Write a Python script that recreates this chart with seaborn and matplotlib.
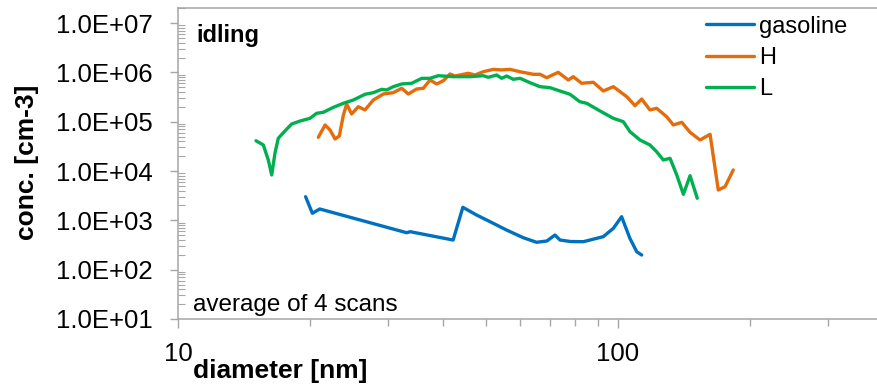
import numpy as np
import pandas as pd
import matplotlib
matplotlib.use("Agg")
import matplotlib.pyplot as plt
import matplotlib.ticker as mticker
import seaborn as sns

# ---------------- data ----------------
gasoline_d = [19.5, 20.2, 21.0, 33.1, 33.7, 42.2, 44.4, 47.7, 51.2, 55.8, 60.9,
              65.3, 68.9, 71.9, 73.8, 78.0, 83.4, 92.6, 97.6, 101.9, 106.4, 110.3, 113.2]
gasoline_c = [3015, 1390, 1698, 561, 589, 399, 1838, 1283, 938, 637, 445,
              359, 381, 504, 399, 372, 369, 467, 689, 1186, 433, 231, 198]

H_d = [20.84, 21.59, 22.16, 22.75, 23.26, 23.76, 24.17, 24.81, 25.69, 26.61,
       27.79, 29.29, 30.85, 32.24, 33.38, 34.87, 36.1, 37.39, 38.73, 40.09,
       41.52, 42.61, 43.74, 45.69, 47.32, 49.41, 52.07, 54.41, 56.82, 59.88,
       64.2, 66.49, 68.86, 73.14, 77.1, 79.1, 82.7, 87.9, 92.6, 97.6,
       104.7, 109.3, 113.2, 118.2, 122.4, 129.0, 133.6, 139.6, 145.8, 153.6,
       161.9, 169.0, 175.1, 182.8]
H_c = [48200, 85700, 67800, 44600, 51300, 136000, 228000, 143000, 201000, 173000,
       275000, 364000, 387000, 475000, 364000, 460000, 475000, 700000, 581000, 677000,
       927000, 843000, 884000, 957000, 884000, 1030000, 1150000, 1120000, 1150000, 1030000,
       913000, 913000, 779000, 1000000, 700000, 817000, 600000, 629000, 419000, 512000,
       321000, 211000, 288000, 173000, 187000, 126000, 85700, 97100, 61000, 42500,
       55500, 4120, 4810, 10500]

L_d = [15.04, 15.63, 16.04, 16.33, 16.61, 16.9, 17.35, 18.13, 18.94, 19.95,
       20.66, 21.39, 22.54, 23.76, 25.03, 26.61, 27.79, 29.04, 29.8, 30.85,
       32.24, 33.97, 35.8, 37.39, 39.05, 42.24, 46.09, 49.41, 50.72, 53.0,
       54.41, 55.85, 57.81, 59.88, 63.1, 66.49, 70.05, 73.8, 77.8, 81.9,
       84.9, 91.0, 97.6, 102.8, 106.5, 112.2, 118.2, 122.4, 126.8, 131.3,
       136.0, 140.8, 145.8, 151.4]
L_c = [41100, 33700, 16700, 8300, 22900, 46000, 59800, 89800, 103000, 117000,
       148000, 155000, 195000, 236000, 275000, 359000, 387000, 453000, 439000, 512000,
       581000, 600000, 757000, 757000, 855000, 817000, 817000, 855000, 794000, 884000,
       757000, 843000, 723000, 757000, 617000, 512000, 489000, 419000, 359000, 254000,
       236000, 165000, 117000, 100000, 62600, 42500, 33700, 24600, 16700, 18100,
       8300, 3370, 8040, 2800]

series_names = ["gasoline", "H", "L"]
series_colors = ["#0070C0", "#E46C0A", "#00B050"]
y_major = [1e1, 1e2, 1e3, 1e4, 1e5, 1e6, 1e7]
x_major = [10, 100]
x_major_labels = ["10", "100"]

df = pd.concat([
    pd.DataFrame({"diameter": gasoline_d, "conc": gasoline_c, "series": "gasoline"}),
    pd.DataFrame({"diameter": H_d, "conc": H_c, "series": "H"}),
    pd.DataFrame({"diameter": L_d, "conc": L_c, "series": "L"}),
], ignore_index=True)

# ---------------- style ----------------
sns.set_theme(style="white")
plt.rcParams["font.family"] = ["Liberation Sans", "DejaVu Sans"]

W, H = 877, 386
fig = plt.figure(figsize=(W / 100, H / 100), dpi=100)
ax = fig.add_axes([178 / W, (H - 319) / H, (W - 178) / W, 311 / H])

sns.lineplot(data=df, x="diameter", y="conc", hue="series",
             hue_order=series_names, palette=dict(zip(series_names, series_colors)),
             estimator=None, sort=False, linewidth=2.4, legend=False, ax=ax)
for ln in ax.lines:
    ln.set_solid_joinstyle("round")
    ln.set_solid_capstyle("round")

ax.set_xscale("log")
ax.set_yscale("log")
ax.set_xlim(10, 10 ** (1 + 699 / 440))
ax.set_ylim(10, 10 ** (1 + 311 / 49.33))

gray = "#A6A6A6"
for s in ["left", "bottom", "top"]:
    ax.spines[s].set_color(gray)
    ax.spines[s].set_linewidth(1.1)
ax.spines["right"].set_visible(False)

ax.yaxis.set_major_locator(mticker.FixedLocator(y_major))
ax.yaxis.set_major_formatter(mticker.FuncFormatter(lambda v, p: f"1.0E+{int(round(np.log10(v))):02d}"))
ax.yaxis.set_minor_locator(mticker.LogLocator(base=10, subs=np.arange(2, 10), numticks=20))
ax.yaxis.set_minor_formatter(mticker.NullFormatter())

ax.xaxis.set_major_locator(mticker.FixedLocator(x_major))
ax.xaxis.set_major_formatter(mticker.FixedFormatter(x_major_labels))
ax.xaxis.set_minor_locator(mticker.LogLocator(base=10, subs=np.arange(2, 10), numticks=20))
ax.xaxis.set_minor_formatter(mticker.NullFormatter())

ax.tick_params(axis="y", which="major", direction="out", length=6, width=1, color=gray,
               labelsize=18.5, pad=12, labelcolor="black", left=True)
ax.tick_params(axis="y", which="minor", direction="in", length=5, width=0.8, color=gray, left=True)
ax.tick_params(axis="x", which="major", direction="out", length=6.5, width=1, color=gray,
               labelsize=18.5, pad=10, labelcolor="black", bottom=True)
ax.tick_params(axis="x", which="minor", direction="out", length=5, width=1, color=gray, bottom=True)
ax.set_xlabel("")
ax.set_ylabel("")

fig.text(27 / W, 1 - 162.5 / H, "conc. [cm-3]", rotation=90, ha="center", va="center",
         fontsize=19, fontweight="bold", color="black")
fig.text(192.7 / W, 1 - 378 / H, "diameter [nm]", ha="left", va="baseline",
         fontsize=19, fontweight="bold", color="black")
fig.text(196 / W, 1 - 42 / H, "idling", ha="left", va="baseline",
         fontsize=17, fontweight="bold", color="black")
fig.text(193 / W, 1 - 310.5 / H, "average of 4 scans", ha="left", va="baseline",
         fontsize=17.5, color="black")

leg = ax.legend(handles=ax.lines[:3], labels=series_names, loc="upper left",
                bbox_to_anchor=(705.7 / W, 1 - 15.5 / H), bbox_transform=fig.transFigure,
                frameon=False, fontsize=17, handlelength=2.05, handletextpad=0.2,
                labelspacing=0.4, borderpad=0, borderaxespad=0)
for t in leg.get_texts():
    t.set_color("black")

fig.savefig("out.png", dpi=100)
